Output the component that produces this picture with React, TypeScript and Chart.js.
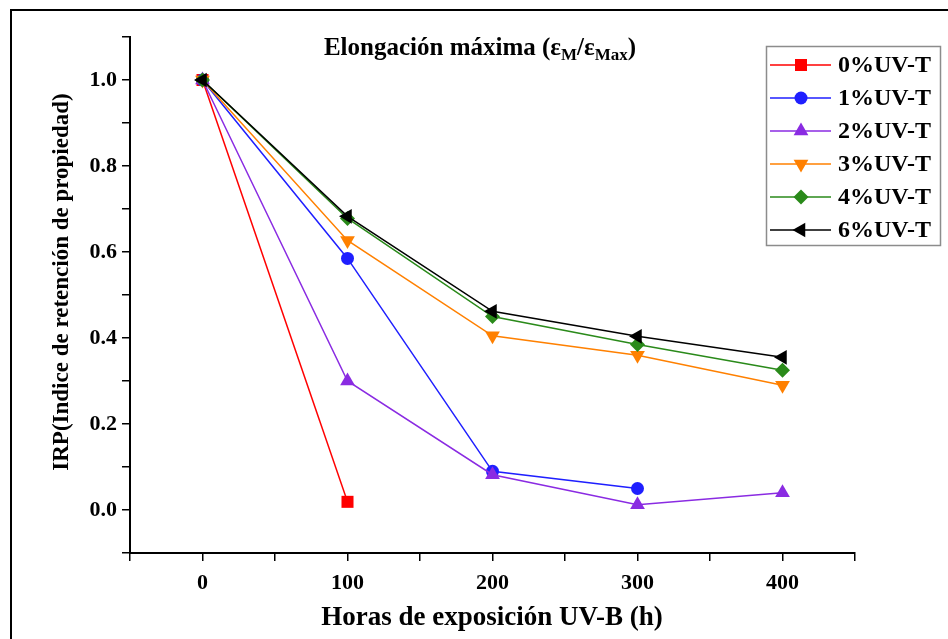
import { useEffect, useRef } from 'react';
import { Chart, registerables } from 'chart.js';

Chart.register(...registerables);

const hours = [0, 100, 200, 300, 400];
const seriesLabels = ['0%UV-T', '1%UV-T', '2%UV-T', '3%UV-T', '4%UV-T', '6%UV-T'];
const uv0 = [1.0, 0.019];
const uv1 = [1.0, 0.585, 0.09, 0.05];
const uv2 = [1.0, 0.3, 0.082, 0.012, 0.04];
const uv3 = [1.0, 0.627, 0.405, 0.36, 0.29];
const uv4 = [1.0, 0.678, 0.45, 0.385, 0.325];
const uv6 = [1.0, 0.683, 0.462, 0.404, 0.355];
const seriesValues = [uv0, uv1, uv2, uv3, uv4, uv6];
const xTickLabels = ['0', '100', '200', '300', '400'];
const yTickLabels = ['0.0', '0.2', '0.4', '0.6', '0.8', '1.0'];

const colors = ['#ff0000', '#1f1fff', '#8a2be2', '#ff8000', '#2a8a1a', '#000000'];
const shapes = ['rect', 'circle', 'triangle', 'triangle', 'rectRot', 'triangle'];
const rotations = [0, 0, 0, 180, 0, -90];
const radii = [8.5, 6.5, 8.5, 8.5, 7.5, 8.5];

const FONT = '"Liberation Serif", "Times New Roman", serif';

function drawMarker(ctx: CanvasRenderingContext2D, shape: string, rot: number, r: number, x: number, y: number) {
  ctx.beginPath();
  if (shape === 'circle') {
    ctx.arc(x, y, r, 0, Math.PI * 2);
  } else if (shape === 'rect') {
    const s = Math.SQRT1_2 * r;
    ctx.rect(x - s, y - s, 2 * s, 2 * s);
  } else if (shape === 'rectRot') {
    ctx.moveTo(x, y - r);
    ctx.lineTo(x + r, y);
    ctx.lineTo(x, y + r);
    ctx.lineTo(x - r, y);
    ctx.closePath();
  } else {
    let rad = (rot * Math.PI) / 180;
    ctx.moveTo(x + Math.sin(rad) * r, y - Math.cos(rad) * r);
    rad += (2 * Math.PI) / 3;
    ctx.lineTo(x + Math.sin(rad) * r, y - Math.cos(rad) * r);
    rad += (2 * Math.PI) / 3;
    ctx.lineTo(x + Math.sin(rad) * r, y - Math.cos(rad) * r);
    ctx.closePath();
  }
  ctx.fill();
}

const overlayPlugin = {
  id: 'overlay',
  afterDraw(chart: any) {
    const ctx: CanvasRenderingContext2D = chart.ctx;
    ctx.save();
    // outer frame
    ctx.strokeStyle = '#000';
    ctx.lineWidth = 2;
    ctx.beginPath();
    ctx.moveTo(11, 640);
    ctx.lineTo(11, 10);
    ctx.lineTo(950, 10);
    ctx.stroke();

    // title with subscripts
    const parts = [
      { t: 'Elongación máxima (ε', sub: false },
      { t: 'M', sub: true },
      { t: '/ε', sub: false },
      { t: 'Max', sub: true },
      { t: ')', sub: false },
    ];
    const mainFont = `bold 25px ${FONT}`;
    const subFont = `bold 17px ${FONT}`;
    let total = 0;
    for (const p of parts) {
      ctx.font = p.sub ? subFont : mainFont;
      total += ctx.measureText(p.t).width;
    }
    let x = 480 - total / 2;
    ctx.fillStyle = '#000';
    ctx.textBaseline = 'alphabetic';
    ctx.textAlign = 'left';
    for (const p of parts) {
      ctx.font = p.sub ? subFont : mainFont;
      ctx.fillText(p.t, x, p.sub ? 60 : 55);
      x += ctx.measureText(p.t).width;
    }

    // x axis title
    ctx.font = `bold 27px ${FONT}`;
    ctx.textAlign = 'center';
    ctx.textBaseline = 'middle';
    ctx.fillText('Horas de exposición UV-B (h)', 492, 618);

    // y axis title
    ctx.save();
    ctx.translate(62, 282);
    ctx.rotate(-Math.PI / 2);
    ctx.font = `bold 23px ${FONT}`;
    ctx.fillText('IRP(Indice de retención de propiedad)', 0, 0);
    ctx.restore();

    // legend
    ctx.strokeStyle = '#8c8c8c';
    ctx.lineWidth = 1.5;
    ctx.strokeRect(766.5, 46.5, 174, 199);
    ctx.font = `bold 24px ${FONT}`;
    ctx.textAlign = 'left';
    ctx.textBaseline = 'middle';
    seriesLabels.forEach((lab, i) => {
      const yy = 65 + i * 33;
      ctx.strokeStyle = colors[i];
      ctx.lineWidth = 1.5;
      ctx.beginPath();
      ctx.moveTo(770, yy);
      ctx.lineTo(831, yy);
      ctx.stroke();
      ctx.fillStyle = colors[i];
      drawMarker(ctx, shapes[i], rotations[i], radii[i], 801, yy);
      ctx.fillStyle = '#000';
      ctx.fillText(lab, 838, yy + 1);
    });
    ctx.restore();
  },
};

export default function App() {
  const ref = useRef<HTMLCanvasElement>(null);
  useEffect(() => {
    if (!ref.current) return;
    const datasets = seriesValues.map((vals, i) => ({
      label: seriesLabels[i],
      data: vals.map((v, j) => ({ x: hours[j], y: v })),
      borderColor: colors[i],
      backgroundColor: colors[i],
      borderWidth: 1.5,
      pointStyle: shapes[i] as any,
      pointRotation: rotations[i],
      pointRadius: radii[i],
      pointBorderWidth: 0,
      pointBackgroundColor: colors[i],
      order: 5 - i,
      tension: 0,
      clip: false as any,
    }));
    const chart = new Chart(ref.current, {
      type: 'line',
      data: { datasets },
      plugins: [overlayPlugin],
      options: {
        animation: false,
        responsive: false,
        devicePixelRatio: 1,
        layout: { padding: { left: 0, right: 93, top: 37, bottom: 0 } },
        plugins: { legend: { display: false }, title: { display: false }, tooltip: { enabled: false } },
        scales: {
          x: {
            type: 'linear',
            min: -50,
            max: 450,
            afterFit: (s: any) => { s.height = 86; },
            afterBuildTicks: (s: any) => {
              const t = [];
              for (let v = -50; v <= 450; v += 50) t.push({ value: v });
              s.ticks = t;
            },
            ticks: {
              autoSkip: false,
              maxRotation: 0,
              padding: 9,
              color: '#000',
              font: { family: FONT, size: 22, weight: 'bold' },
              callback: (v: any) => {
                const n = Number(v);
                if (n >= 0 && n % 100 === 0) return xTickLabels[n / 100];
                return '';
              },
            },
            grid: { drawOnChartArea: false, drawTicks: true, tickLength: 8, color: '#000', lineWidth: 1.5 },
            border: { display: true, color: '#000', width: 2 },
          },
          y: {
            type: 'linear',
            min: -0.1,
            max: 1.1,
            afterFit: (s: any) => { s.width = 130; },
            afterBuildTicks: (s: any) => {
              const t = [];
              for (let k = -1; k <= 11; k++) t.push({ value: k / 10 });
              s.ticks = t;
            },
            ticks: {
              autoSkip: false,
              padding: 5,
              color: '#000',
              font: { family: FONT, size: 22, weight: 'bold' },
              callback: (v: any) => {
                const k = Math.round(Number(v) * 10);
                if (k >= 0 && k <= 10 && k % 2 === 0) return yTickLabels[k / 2];
                return '';
              },
            },
            grid: { drawOnChartArea: false, drawTicks: true, tickLength: 8, color: '#000', lineWidth: 1.5 },
            border: { display: true, color: '#000', width: 2 },
          },
        },
      },
    });
    return () => chart.destroy();
  }, []);
  return (
    <div style={{ position: 'fixed', left: 0, top: 0, width: 948, height: 639, background: '#fff' }}>
      <canvas ref={ref} width={948} height={639} style={{ display: 'block' }} />
    </div>
  );
}
